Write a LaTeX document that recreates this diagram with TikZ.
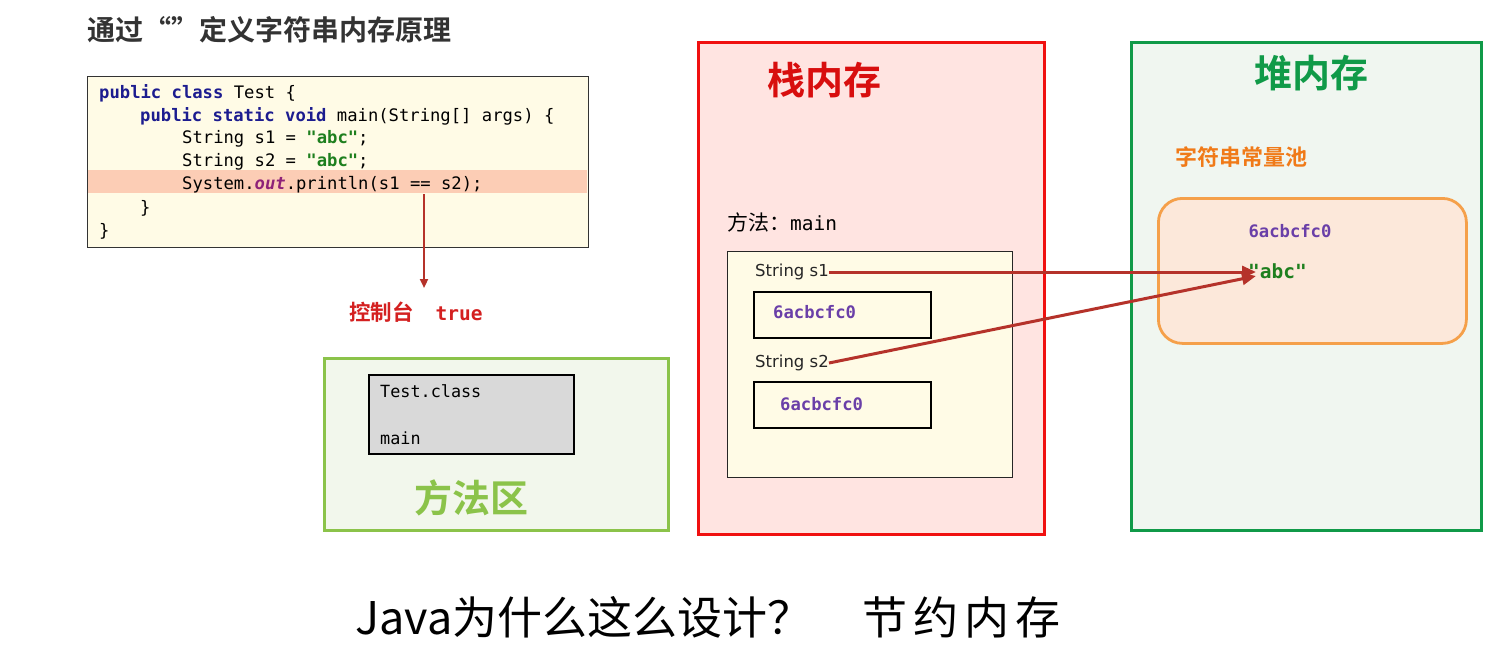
\documentclass[tikz,border=0pt]{standalone}
\usepackage{fontspec}
\setmainfont{DejaVu Sans}
\setmonofont{DejaVu Sans Mono}
\newfontfamily\cjk{Noto Sans CJK SC}
\newfontfamily\cjkb{Noto Sans CJK SC Bold}
\newfontfamily\monob{DejaVu Sans Mono Bold}
\usetikzlibrary{arrows.meta}
\definecolor{codefill}{HTML}{FFFBE6}
\definecolor{hilite}{HTML}{FCCDB5}
\definecolor{kw}{HTML}{1C1C8F}
\definecolor{strg}{HTML}{1E7F1E}
\definecolor{outc}{HTML}{8E2278}
\definecolor{arr}{HTML}{B5322A}
\definecolor{cons}{HTML}{D42020}
\definecolor{mgreen}{HTML}{8BC34A}
\definecolor{mfill}{HTML}{F2F7EC}
\definecolor{sred}{HTML}{F01010}
\definecolor{sfill}{HTML}{FFE4E1}
\definecolor{hgreen}{HTML}{109A48}
\definecolor{hfill}{HTML}{F0F6F0}
\definecolor{porange}{HTML}{F5A04A}
\definecolor{pfill}{HTML}{FCE8DA}
\definecolor{otext}{HTML}{F07A18}
\definecolor{addr}{HTML}{6A3FA8}
\definecolor{titlec}{HTML}{333333}
\definecolor{grayfill}{HTML}{D9D9D9}
\tikzset{
  codeline/.style={anchor=west,inner sep=0pt,font=\ttfamily\fontsize{17.2}{17.2}\selectfont},
  memarea/.style={line width=3.2pt},
  addrbox/.style={draw=black,line width=1.8pt,fill=codefill},
  addrtext/.style={anchor=west,inner sep=0pt,text=addr,font=\monob\fontsize{17.2}{17.2}\selectfont},
  varlabel/.style={anchor=west,inner sep=0pt,font=\fontsize{16.5}{16.5}\selectfont,text=black!85},
  bigtitle/.style={inner sep=0pt,font=\cjkb\fontsize{38}{38}\selectfont},
  refarrow/.style={draw=arr,line width=3pt,-{Triangle[length=14pt,width=12pt]}},
}
\begin{document}
\begin{tikzpicture}[x=1pt,y=-1pt]
\useasboundingbox[fill=white] (0,0) rectangle (1511,654);

% title
\node[anchor=west,inner sep=0pt,text=titlec,font=\cjkb\fontsize{28}{28}\selectfont] (title) at (87,30) {通过“”定义字符串内存原理};

% code box
\node[draw=black!80,line width=1.4pt,fill=codefill,minimum width=501pt,minimum height=171pt,anchor=north west,inner sep=0pt] (code) at (87,76) {};
\fill[hilite] (88,170) rectangle (587,193);
\node[codeline] (l1) at (99,93) {\textcolor{kw}{\bfseries public class} Test \{};
\node[codeline] (l2) at (140,116) {\textcolor{kw}{\bfseries public static void} main(String[] args) \{};
\node[codeline] (l3) at (182,139) {String s1 = \textcolor{strg}{\bfseries "abc"};};
\node[codeline] (l4) at (182,162) {String s2 = \textcolor{strg}{\bfseries "abc"};};
\node[codeline] (l5) at (182,185) {System.\textcolor{outc}{\bfseries\itshape out}.println(s1 == s2);};
\node[codeline] (l6) at (140,208) {\}};
\node[codeline] (l7) at (99,231) {\}};

% console
\node[anchor=west,inner sep=0pt,text=cons] (console) at (349,312) {{\cjkb\fontsize{21.5}{21.5}\selectfont 控制台}\hspace{22pt}{\monob\fontsize{19.5}{19.5}\selectfont true}};
\coordinate (eq) at (424,194);
\coordinate (ctop) at (424,288);
\draw[draw=arr,line width=2.2pt,-{Triangle[length=9pt,width=8pt]}] (eq) -- (ctop);

% method area
\node[draw=mgreen,memarea,fill=mfill,minimum width=344pt,minimum height=172pt,anchor=north west,inner sep=0pt] (marea) at (323,357) {};
\node[draw=black,line width=1.6pt,fill=grayfill,minimum width=205pt,minimum height=79pt,anchor=north west,inner sep=0pt] (cls) at (368,374) {};
\node[anchor=west,inner sep=0pt,font=\ttfamily\fontsize{16.8}{16.8}\selectfont] (tclass) at (380,391) {Test.class};
\node[anchor=west,inner sep=0pt,font=\ttfamily\fontsize{16.8}{16.8}\selectfont] (tmain) at (380,438) {main};
\node[bigtitle,text=mgreen] (mtitle) at (471,498) {方法区};

% stack
\node[draw=sred,memarea,fill=sfill,minimum width=346pt,minimum height=492pt,anchor=north west,inner sep=0pt] (stack) at (697,41) {};
\node[bigtitle,text=sred!90!black,anchor=west] (stitle) at (767,80) {栈内存};
\node[anchor=west,inner sep=0pt] (mlabel) at (727,222) {{\cjk\fontsize{21}{21}\selectfont 方法：}{\ttfamily\fontsize{19.5}{19.5}\selectfont main}};
\node[draw=black!85,line width=1.4pt,fill=codefill,minimum width=285pt,minimum height=226pt,anchor=north west,inner sep=0pt] (frame) at (727,251) {};
\node[varlabel] (s1) at (755,272) {String s1};
\node[addrbox,minimum width=177pt,minimum height=46pt,anchor=north west,inner sep=0pt] (b1) at (753,291) {};
\node[addrtext] (a1) at (773,312) {6acbcfc0};
\node[varlabel] (s2) at (755,363) {String s2};
\node[addrbox,minimum width=177pt,minimum height=46pt,anchor=north west,inner sep=0pt] (b2) at (753,381) {};
\node[addrtext] (a2) at (780,404) {6acbcfc0};

% heap
\node[draw=hgreen,memarea,fill=hfill,minimum width=350pt,minimum height=488pt,anchor=north west,inner sep=0pt] (heap) at (1130,41) {};
\node[bigtitle,text=hgreen] (htitle) at (1311,73) {堆内存};
\node[anchor=west,inner sep=0pt,text=otext,font=\cjkb\fontsize{22}{22}\selectfont] (ptitle) at (1175,157) {字符串常量池};
\node[draw=porange,line width=2.8pt,fill=pfill,rounded corners=24pt,minimum width=308pt,minimum height=145pt,anchor=north west,inner sep=0pt] (pool) at (1157,197) {};
\node[addrtext,anchor=center] (pa) at (1290,231) {6acbcfc0};
\node[anchor=west,inner sep=0pt,text=strg,font=\monob\fontsize{19.5}{19.5}\selectfont] (abc) at (1248,271) {"abc"};

% references
\coordinate (t1) at (1256,272);
\coordinate (t2) at (1256,276);
\draw[refarrow] (s1.east) -- (t1);
\draw[refarrow] (s2.east) -- (t2);

% bottom
\node[anchor=west,inner sep=0pt,font=\cjk\fontsize{45}{45}\selectfont] (q) at (355,617) {Java为什么这么设计？};
\node[anchor=west,inner sep=0pt,font=\cjk\fontsize{45}{45}\selectfont] (ans) at (862,617) {节\hspace{6pt}约\hspace{6pt}内\hspace{6pt}存};
\end{tikzpicture}
\end{document}
